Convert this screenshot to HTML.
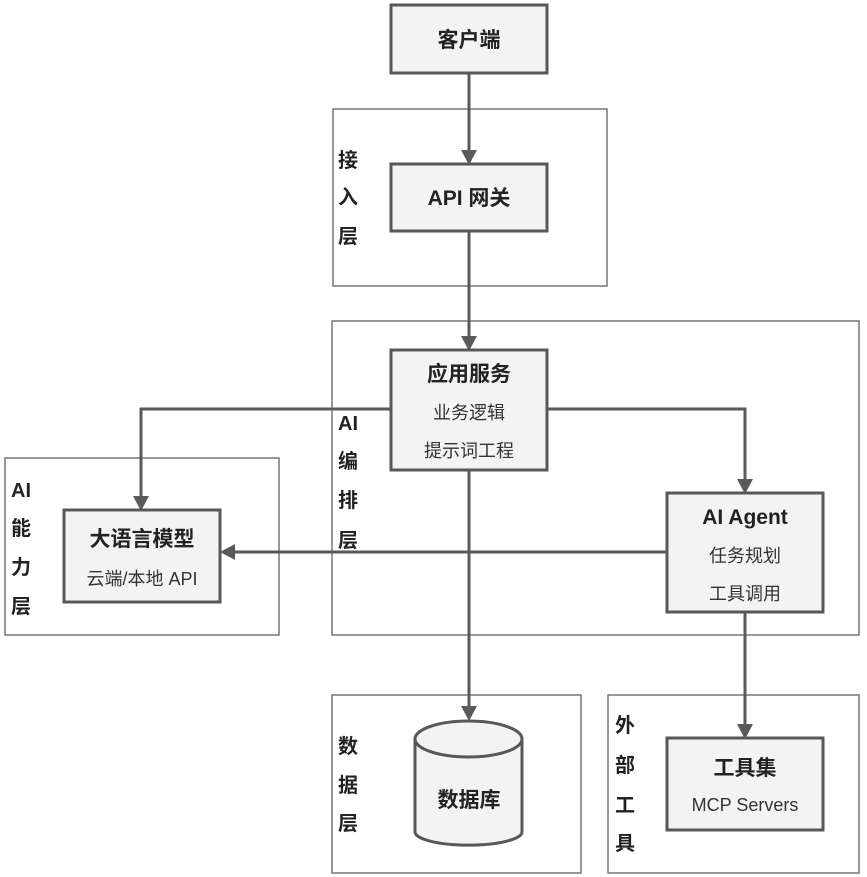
<!DOCTYPE html>
<html><head><meta charset="utf-8"><style>
html,body{margin:0;padding:0;background:#fff;}
svg{display:block;}
text{font-family:"Liberation Sans","Noto Sans CJK SC",sans-serif;fill:#222;}
.b{font-weight:bold;font-size:21px;}
.s{font-size:18px;fill:#333;}
.l{font-weight:bold;font-size:20px;}
.box{fill:#f2f3f2;stroke:#585858;stroke-width:3;}
.c{fill:none;stroke:#777;stroke-width:1.5;}
.ln{fill:none;stroke:#5a5a5a;stroke-width:3;}
.ar{fill:#5a5a5a;}
</style></head><body>
<svg width="867" height="877" viewBox="0 0 867 877">
<rect class="c" x="333" y="109" width="274" height="177"/>
<rect class="c" x="332" y="321" width="527" height="314"/>
<rect class="c" x="5" y="458" width="274" height="177"/>
<rect class="c" x="332" y="695" width="249" height="178"/>
<rect class="c" x="608" y="695" width="251" height="178"/>

<line class="ln" x1="469" y1="73" x2="469" y2="152"/>
<polygon class="ar" points="461,150 477,150 469,165"/>
<line class="ln" x1="469" y1="231" x2="469" y2="338"/>
<polygon class="ar" points="461,336 477,336 469,351"/>
<polyline class="ln" points="391,409 141,409 141,498"/>
<polygon class="ar" points="133,496 149,496 141,511"/>
<polyline class="ln" points="547,409 745,409 745,481"/>
<polygon class="ar" points="737,479 753,479 745,494"/>
<line class="ln" x1="667" y1="552" x2="233" y2="552"/>
<polygon class="ar" points="235,544 235,560 220,552"/>
<line class="ln" x1="469" y1="470" x2="469" y2="708"/>
<polygon class="ar" points="461,706 477,706 469,721"/>
<line class="ln" x1="745" y1="612" x2="745" y2="726"/>
<polygon class="ar" points="737,724 753,724 745,739"/>

<rect class="box" x="391" y="5" width="156" height="68"/>
<text class="b" x="469" y="47" text-anchor="middle">客户端</text>

<rect class="box" x="391" y="164" width="156" height="67"/>
<text class="b" x="469" y="205" text-anchor="middle">API 网关</text>

<rect class="box" x="391" y="350" width="156" height="120"/>
<text class="b" x="469" y="381" text-anchor="middle">应用服务</text>
<text class="s" x="469" y="419" text-anchor="middle">业务逻辑</text>
<text class="s" x="469" y="457" text-anchor="middle">提示词工程</text>

<rect class="box" x="64" y="510" width="156" height="92"/>
<text class="b" x="142" y="546" text-anchor="middle">大语言模型</text>
<text class="s" x="142" y="585" text-anchor="middle">云端/本地 API</text>

<rect class="box" x="667" y="493" width="156" height="119"/>
<text class="b" x="745" y="524" text-anchor="middle">AI Agent</text>
<text class="s" x="745" y="562" text-anchor="middle">任务规划</text>
<text class="s" x="745" y="600" text-anchor="middle">工具调用</text>

<rect class="box" x="667" y="738" width="156" height="92"/>
<text class="b" x="745" y="775" text-anchor="middle">工具集</text>
<text class="s" x="745" y="811" text-anchor="middle">MCP Servers</text>

<path class="box" d="M415,739 L415,832 A53,13 0 0 0 522,832 L522,739 A53,13 0 0 0 415,739 Z"/>
<ellipse class="box" cx="468.5" cy="739" rx="53.5" ry="18"/>
<text class="b" x="469" y="807" text-anchor="middle">数据库</text>

<text class="l" x="348" y="167" text-anchor="middle">接</text>
<text class="l" x="348" y="204" text-anchor="middle">入</text>
<text class="l" x="348" y="243" text-anchor="middle">层</text>

<text class="l" x="348" y="430" text-anchor="middle">AI</text>
<text class="l" x="348" y="468" text-anchor="middle">编</text>
<text class="l" x="348" y="507" text-anchor="middle">排</text>
<text class="l" x="348" y="547" text-anchor="middle">层</text>

<text class="l" x="21" y="497" text-anchor="middle">AI</text>
<text class="l" x="21" y="535" text-anchor="middle">能</text>
<text class="l" x="21" y="574" text-anchor="middle">力</text>
<text class="l" x="21" y="613" text-anchor="middle">层</text>

<text class="l" x="348" y="753" text-anchor="middle">数</text>
<text class="l" x="348" y="792" text-anchor="middle">据</text>
<text class="l" x="348" y="830" text-anchor="middle">层</text>

<text class="l" x="625" y="732" text-anchor="middle">外</text>
<text class="l" x="625" y="772" text-anchor="middle">部</text>
<text class="l" x="625" y="812" text-anchor="middle">工</text>
<text class="l" x="625" y="850" text-anchor="middle">具</text>
</svg>
</body></html>
